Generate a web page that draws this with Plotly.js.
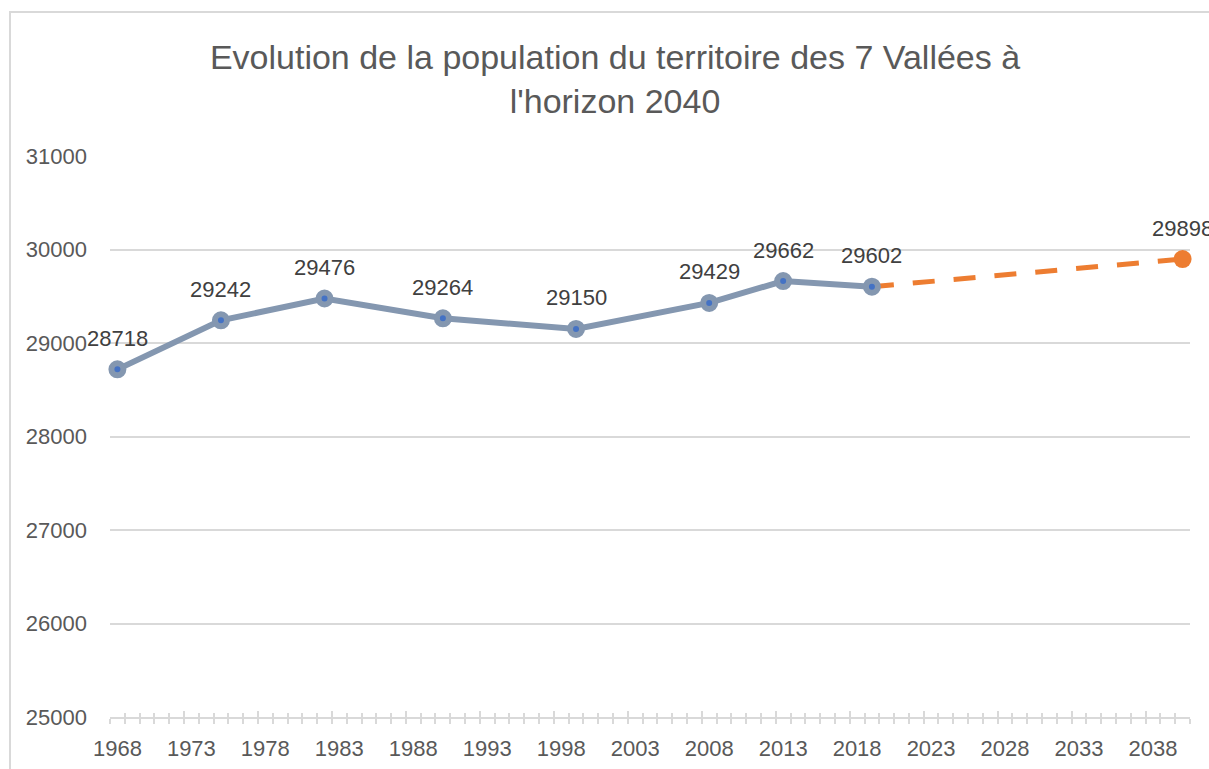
<!DOCTYPE html>
<html>
<head>
<meta charset="utf-8">
<script src="https://cdn.plot.ly/plotly-3.0.1.min.js"></script>
<style>
  html, body { margin: 0; padding: 0; background: #fff; }
  #frame { position: absolute; left: 9px; top: 11px; width: 1300px; height: 800px;
           border-left: 2px solid #d9d9d9; border-top: 2px solid #d9d9d9; pointer-events: none; }
  #chart { position: absolute; left: 0; top: 0; width: 1209px; height: 769px; }
</style>
</head>
<body>
<div id="chart"></div>
<div id="frame"></div>
<script>
// Observed population
const years = [1968, 1975, 1982, 1990, 1999, 2008, 2013, 2019];
const population = [28718, 29242, 29476, 29264, 29150, 29429, 29662, 29602];
// Projection
const projYears = [2019, 2040];
const projPopulation = [29602, 29898];
const projLabeled = [false, true];

const titleText = "Evolution de la population du territoire des 7 Vallées à<br>l'horizon 2040";

const font = 'Liberation Sans, Arial, sans-serif';
const labelFont = {family: font, size: 22, color: '#404040'};

const traces = [
  {
    x: projYears, y: projPopulation,
    mode: 'lines+markers',
    line: {color: '#ED7D31', width: 5, dash: '22px,19px'},
    marker: {color: '#ED7D31', opacity: 1, size: projLabeled.map(v => v ? 18 : 0), line: {width: 0}},
    cliponaxis: false,
    hoverinfo: 'x+y',
    showlegend: false
  },
  {
    x: years, y: population,
    mode: 'lines+markers',
    line: {color: '#8497B0', width: 6},
    marker: {color: '#4472C4', opacity: 1, size: 12, line: {color: '#8497B0', width: 6}},
    cliponaxis: false,
    hoverinfo: 'x+y',
    showlegend: false
  },
  {
    x: years, y: population, xaxis: 'x2', mode: 'markers',
    marker: {opacity: 0}, hoverinfo: 'skip', showlegend: false
  }
];

const annotations = years.map((yr, i) => ({
  x: yr, y: population[i], text: String(population[i]),
  showarrow: false, xanchor: 'center', yanchor: 'middle', yshift: 31,
  font: labelFont
})).concat(projYears.filter((_, i) => projLabeled[i]).map((yr) => {
  const i = projYears.indexOf(yr);
  return {
    x: yr, y: projPopulation[i], text: String(projPopulation[i]),
    showarrow: false, xanchor: 'center', yanchor: 'middle', yshift: 31,
    font: labelFont
  };
}));

const layout = {
  width: 1209, height: 769,
  margin: {l: 110, r: 19, t: 156, b: 52},
  paper_bgcolor: 'rgba(0,0,0,0)',
  plot_bgcolor: 'rgba(0,0,0,0)',
  title: {
    text: titleText,
    font: {family: font, size: 34, color: '#595959'},
    x: 0.5087, xanchor: 'center', y: 0.91, yanchor: 'top'
  },
  annotations: annotations,
  xaxis: {
    range: [1967.5, 2040.5],
    tickmode: 'linear', tick0: 1968, dtick: 5,
    ticks: '', showgrid: false, zeroline: false,
    showline: true, linecolor: '#d9d9d9', linewidth: 2,
    tickfont: {family: font, size: 22, color: '#595959'},
    ticklabelstandoff: 11,
    minor: {tickmode: 'linear', tick0: 1967.5, dtick: 1, ticks: 'outside', ticklen: 5, tickcolor: '#d9d9d9', tickwidth: 1.5, showgrid: false}
  },
  xaxis2: {
    overlaying: 'x', matches: 'x', side: 'bottom',
    range: [1967.5, 2040.5],
    tickmode: 'linear', tick0: 1967.5, dtick: 5,
    ticks: 'inside', ticklen: 6, tickcolor: '#d9d9d9', tickwidth: 1.5,
    showticklabels: false, showgrid: false, zeroline: false, showline: false,
    minor: {tickmode: 'linear', tick0: 1967.5, dtick: 1, ticks: 'inside', ticklen: 4, tickcolor: '#d9d9d9', tickwidth: 1.5, showgrid: false}
  },
  yaxis: {
    range: [25000, 31000],
    tickmode: 'linear', tick0: 25000, dtick: 1000, tickformat: 'd',
    showgrid: true, gridcolor: '#d9d9d9', gridwidth: 1.5,
    zeroline: false, showline: false, ticks: '',
    tickfont: {family: font, size: 22, color: '#595959'},
    ticklabelstandoff: 22
  },
  hovermode: 'closest'
};

Plotly.newPlot('chart', traces, layout, {displayModeBar: false});
</script>
</body>
</html>
